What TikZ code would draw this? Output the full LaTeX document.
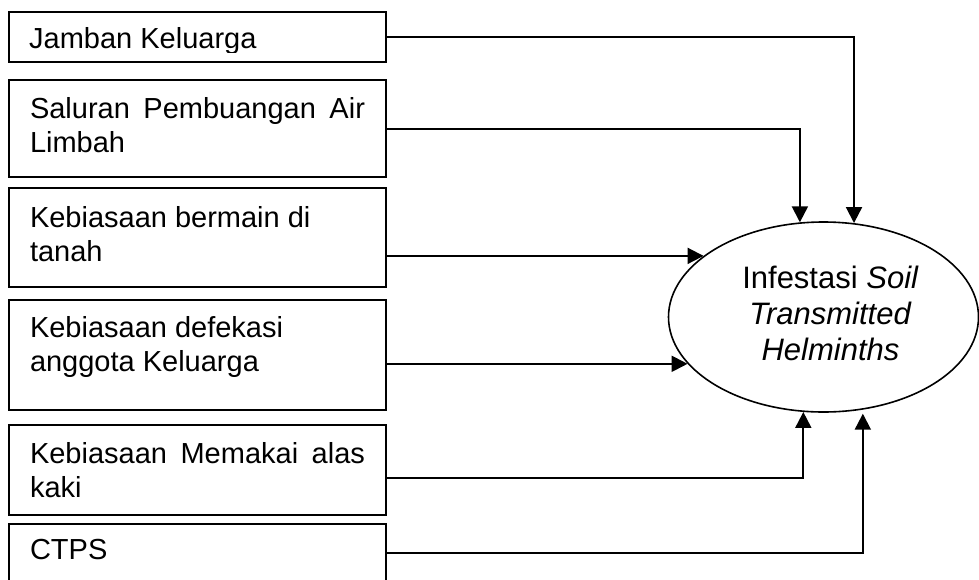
\documentclass[tikz,border=0pt]{standalone}
\usepackage{fontspec}
\setmainfont{Liberation Sans}
\usetikzlibrary{shapes.geometric,arrows.meta,calc}
\newcommand{\boxfnt}{\fontsize{29}{34}\selectfont}
\newcommand{\ellfnt}{\fontsize{31}{36}\selectfont}
\newcommand{\boxtxt}[3]{\parbox[c][#1pt][t]{335pt}{\boxfnt\rule{0pt}{#2pt}#3}}
\tikzset{
  factorbox/.style={draw, line width=2pt, inner xsep=21pt, inner ysep=0pt, rectangle},
  conn/.style={line width=2pt, -{Triangle[width=16pt,length=16pt]}},
  outcome/.style={draw, ellipse, line width=1.6pt, minimum width=310pt, minimum height=190pt, inner sep=0pt, font=\ellfnt}
}
\begin{document}
\begin{tikzpicture}[x=1pt,y=-1pt]
\useasboundingbox (0,0) rectangle (979,579);
% boxes
\node[factorbox, minimum width=377pt, minimum height=50pt] (b1) at (197.5,37) {};
\begin{scope}
  \clip ([xshift=-2pt]b1.north west) rectangle ([yshift=11pt]b1.south east);
  \node[anchor=base west, inner sep=0pt, font=\boxfnt] (t1) at ([xshift=21pt,yshift=-37pt]b1.north west) {Jamban Keluarga};
\end{scope}
\node[factorbox] (b2) at (197.5,128.5) {\boxtxt{97}{38}{Saluran\hfill Pembuangan\hfill Air\\Limbah}};
\node[factorbox] (b3) at (197.5,237.5) {\boxtxt{99}{39}{Kebiasaan bermain di\\tanah}};
\node[factorbox] (b4) at (197.5,355) {\boxtxt{110}{37}{Kebiasaan defekasi\\anggota Keluarga}};
\node[factorbox] (b5) at (197.5,470) {\boxtxt{90}{38}{Kebiasaan\hfill Memakai\hfill alas\\kaki}};
\node[factorbox] (b6) at (197.5,574) {\boxtxt{100}{35}{CTPS}};
% outcome
\node[outcome] (st) at (823.5,317) {\raisebox{4pt}{\hspace{14pt}\begin{tabular}{@{}c@{}}Infestasi \textit{Soil}\\\textit{Transmitted}\\\textit{Helminths}\end{tabular}}};
% connectors
\draw[conn] (b1.east) -| (st.72);
\draw[conn] (b2.east) -| (st.104);
\draw[conn] (b3.east |- st.153) -- (st.153);
\draw[conn] (b4.east |- st.199) -- (st.199);
\draw[conn] ([yshift=-8pt]b5.east) -| (st.258);
\draw[conn] ([yshift=-30pt]b6.north east) -| ([yshift=-4pt]st.293);
\end{tikzpicture}
\end{document}
